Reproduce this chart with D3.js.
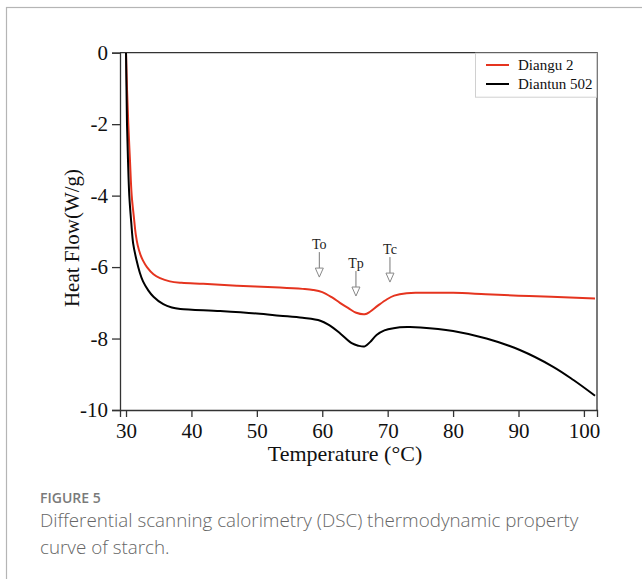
<!DOCTYPE html>
<html>
<head>
<meta charset="utf-8">
<script src="https://cdn.jsdelivr.net/npm/d3@7"></script>
<style>
  body { margin: 0; background: #fff; }
  svg { display: block; }
</style>
</head>
<body>
<div id="chart"></div>
<script>
// data
var seriesNames = ["Diangu 2", "Diantun 502"];
var seriesColors = ["#e5341f", "#000000"];

var diangu2 = [
  [30.0, 0], [30.15, -1], [30.35, -2], [30.6, -3], [30.87, -4], [31.2, -4.6],
  [31.5, -5.1], [31.8, -5.4], [32.2, -5.65], [32.6, -5.82], [33.2, -6.0],
  [34.2, -6.2], [35.2, -6.31], [36.7, -6.4], [38.5, -6.44], [41.8, -6.47],
  [47, -6.52], [53.5, -6.57], [57, -6.61], [58.6, -6.64], [60, -6.7],
  [61.5, -6.85], [62.7, -7.0], [64, -7.15], [65.2, -7.28], [66.5, -7.32],
  [67.3, -7.25], [68.5, -7.08], [69.9, -6.9], [71, -6.8], [72.9, -6.73],
  [75, -6.72], [80, -6.72], [85, -6.76], [90, -6.8], [95, -6.83], [101.7, -6.88]
];

var diantun502 = [
  [30.0, 0], [30.07, -1], [30.15, -2], [30.3, -3], [30.5, -4], [30.8, -4.75],
  [31.1, -5.35], [31.6, -5.8], [32.1, -6.15], [32.6, -6.4], [33.4, -6.65],
  [34.2, -6.83], [35.7, -7.04], [37, -7.13], [38.3, -7.17], [44.4, -7.23],
  [50, -7.3], [53.5, -7.36], [57, -7.42], [59.7, -7.5], [61, -7.62],
  [62.7, -7.85], [64.5, -8.13], [65.5, -8.2], [66.5, -8.22], [67.3, -8.1],
  [68.3, -7.9], [69.5, -7.77], [70.9, -7.71], [73, -7.68], [75, -7.69],
  [80, -7.79], [85.1, -8.0], [90.2, -8.32], [95.3, -8.79], [98.4, -9.16], [101.7, -9.6]
];

var xTicks = [30, 40, 50, 60, 70, 80, 90, 100];
var yTicks = [0, -2, -4, -6, -8, -10];

// transition markers
var markLabels = ["To", "Tp", "Tc"];
var markTemps = [59.55, 65.15, 70.35];
var markTips = [-6.28, -6.81, -6.42];

var W = 642, H = 579;
var serif = "'Liberation Serif', 'Times New Roman', serif";

var svg = d3.select("#chart").append("svg")
  .attr("width", W)
  .attr("height", H);

// card frame
svg.append("rect")
  .attr("x", 6.5).attr("y", 7.5)
  .attr("width", W + 20).attr("height", H + 20)
  .attr("fill", "none")
  .attr("stroke", "#b5b5b5")
  .attr("stroke-width", 1.2);

var x = d3.scaleLinear().domain([29.08, 102]).range([120, 597]);
var y = d3.scaleLinear().domain([-10, 0]).range([410, 52.7]);

// clip to plot area
svg.append("clipPath").attr("id", "plot")
  .append("rect")
  .attr("x", x.range()[0]).attr("y", y(0))
  .attr("width", x.range()[1] - x.range()[0])
  .attr("height", y(-10) - y(0));

// top and right frame
svg.append("path")
  .attr("d", "M" + x.range()[0] + "," + y(0) + "H" + x.range()[1] + "V" + y(-10))
  .attr("fill", "none")
  .attr("stroke", "#333")
  .attr("stroke-width", 1.3);

// X axis
var gx = svg.append("g")
  .attr("transform", "translate(0," + y(-10) + ")")
  .call(d3.axisBottom(x).tickValues(xTicks).tickSize(7).tickPadding(6).tickFormat(function(d) { return d; }));

// Y axis
var gy = svg.append("g")
  .attr("transform", "translate(" + x.range()[0] + ",0)")
  .call(d3.axisLeft(y).tickValues(yTicks).tickSize(8).tickPadding(4).tickFormat(function(d) { return String(d); }));

[gx, gy].forEach(function(g) {
  g.select(".domain").attr("stroke", "#333").attr("stroke-width", 1.3);
  g.selectAll(".tick line").attr("stroke", "#333").attr("stroke-width", 1.3);
  g.selectAll(".tick text")
    .attr("fill", "#111")
    .style("font-family", serif)
    .style("font-size", "21px");
});

// axis titles
svg.append("text")
  .attr("x", 345).attr("y", 461)
  .attr("text-anchor", "middle")
  .style("font-family", serif)
  .style("font-size", "22px")
  .attr("fill", "#111")
  .text("Temperature (°C)");

svg.append("text")
  .attr("transform", "translate(79,238)rotate(-90)")
  .attr("text-anchor", "middle")
  .style("font-family", serif)
  .style("font-size", "21px")
  .attr("fill", "#111")
  .text("Heat Flow(W/g)");

// curves
var line = d3.line()
  .x(function(d) { return x(d[0]); })
  .y(function(d) { return y(d[1]); })
  .curve(d3.curveCatmullRom.alpha(0.5));

var plot = svg.append("g").attr("clip-path", "url(#plot)");

[diangu2, diantun502].forEach(function(s, i) {
  plot.append("path")
    .datum(s)
    .attr("d", line)
    .attr("fill", "none")
    .attr("stroke", seriesColors[i])
    .attr("stroke-width", 2);
});

// arrows with labels
markLabels.forEach(function(lab, i) {
  var px = x(markTemps[i]), tip = y(markTips[i]);
  svg.append("line")
    .attr("x1", px).attr("x2", px)
    .attr("y1", tip - 25).attr("y2", tip - 8)
    .attr("stroke", "#777").attr("stroke-width", 1);
  svg.append("path")
    .attr("d", "M" + (px - 4) + "," + (tip - 9) + "L" + (px + 4) + "," + (tip - 9) + "L" + px + "," + tip + "Z")
    .attr("fill", "#fff")
    .attr("stroke", "#888")
    .attr("stroke-width", 1);
  svg.append("text")
    .attr("x", px).attr("y", tip - 28)
    .attr("text-anchor", "middle")
    .style("font-family", serif)
    .style("font-size", "14px")
    .attr("fill", "#222")
    .text(lab);
});

// legend
var legend = svg.append("g");
legend.append("rect")
  .attr("x", 475.5).attr("y", y(0) + 0.5)
  .attr("width", 121).attr("height", 44)
  .attr("fill", "#fff")
  .attr("stroke", "#d0d0d0");

seriesNames.forEach(function(name, i) {
  var ly = 65 + i * 19;
  legend.append("line")
    .attr("x1", 486).attr("x2", 509)
    .attr("y1", ly).attr("y2", ly)
    .attr("stroke", seriesColors[i])
    .attr("stroke-width", 2);
  legend.append("text")
    .attr("x", 518).attr("y", ly + 5)
    .style("font-family", serif)
    .style("font-size", "15px")
    .attr("fill", "#111")
    .text(name);
});

// caption
svg.append("text")
  .attr("x", 40).attr("y", 503)
  .style("font-family", "'Open Sans', sans-serif")
  .style("font-size", "14px")
  .style("font-weight", 600)
  .attr("fill", "#7a7a7a")
  .text("FIGURE 5");

var capLines = ["Differential scanning calorimetry (DSC) thermodynamic property", "curve of starch."];
capLines.forEach(function(t, i) {
  svg.append("text")
    .attr("x", 40).attr("y", 527 + i * 27)
    .style("font-family", "'Open Sans', sans-serif")
    .style("font-size", "18.8px")
    .style("font-weight", 300)
    .attr("fill", "#666")
    .text(t);
});
</script>
</body>
</html>
